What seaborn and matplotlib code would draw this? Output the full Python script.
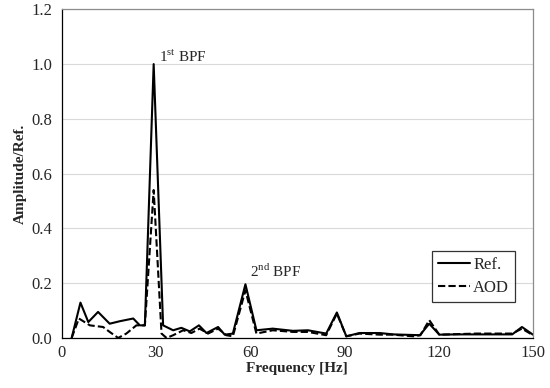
import numpy as np
import pandas as pd
import matplotlib
matplotlib.use("Agg")
import matplotlib.pyplot as plt
import seaborn as sns

# values
freq_ref = [3.2, 6.0, 8.5, 11.6, 15.3, 18.5, 22.8, 24.9, 26.5, 29.3, 32.3, 35.5, 38.1, 40.8,
            43.7, 46.1, 49.8, 51.9, 54.5, 58.5, 62.0, 67.2, 73.6, 78.4, 84.2, 87.6, 90.6,
            94.8, 101.2, 105.5, 114.0, 117.0, 120.2, 126.0, 132.0, 138.0, 143.4, 146.5, 150.0]
amp_ref = [0.0, 0.129, 0.058, 0.095, 0.052, 0.061, 0.071, 0.046, 0.046, 1.0, 0.046, 0.028, 0.037, 0.024,
           0.046, 0.018, 0.040, 0.012, 0.016, 0.196, 0.028, 0.034, 0.026, 0.028, 0.016, 0.093, 0.006,
           0.018, 0.018, 0.013, 0.010, 0.052, 0.012, 0.013, 0.013, 0.013, 0.013, 0.040, 0.012]

freq_aod = [3.2, 5.5, 9.0, 13.2, 15.3, 18.0, 20.6, 23.8, 26.5, 29.3, 31.8, 33.4, 35.5, 38.7,
            41.3, 43.9, 46.6, 49.8, 52.4, 54.5, 58.5, 62.0, 67.2, 73.6, 78.4, 84.2, 87.6,
            90.6, 94.8, 101.2, 105.5, 111.8, 114.2, 117.0, 120.2, 131.9, 143.4, 146.5, 150.0]
amp_aod = [0.0, 0.071, 0.046, 0.040, 0.022, 0.0, 0.016, 0.046, 0.046, 0.54, 0.016, 0.0, 0.010, 0.028,
           0.018, 0.034, 0.016, 0.034, 0.010, 0.006, 0.174, 0.016, 0.028, 0.022, 0.022, 0.010, 0.089,
           0.006, 0.016, 0.012, 0.012, 0.006, 0.010, 0.065, 0.012, 0.016, 0.016, 0.034, 0.010]

x_ticks = [0, 30, 60, 90, 120, 150]
y_ticks = [0.0, 0.2, 0.4, 0.6, 0.8, 1.0, 1.2]

sns.set_style("white")
plt.rcParams['font.family'] = ['Liberation Serif', 'DejaVu Serif']
plt.rcParams['mathtext.fontset'] = 'custom'
plt.rcParams['mathtext.rm'] = 'Liberation Serif'

df = pd.concat([
    pd.DataFrame({"freq": freq_ref, "amp": amp_ref, "series": "Ref."}),
    pd.DataFrame({"freq": freq_aod, "amp": amp_aod, "series": "AOD"}),
])

fig = plt.figure(figsize=(5.5, 3.88), dpi=100)
ax = fig.add_axes([0.112, 0.129, 0.857, 0.847])

sns.lineplot(data=df, x="freq", y="amp", hue="series", style="series",
             palette={"Ref.": "black", "AOD": "black"},
             dashes={"Ref.": "", "AOD": (3.5, 1.5)}, linewidth=1.5, ax=ax, sort=False)

ax.set_xlim(0, 150)
ax.set_ylim(0, 1.2)
ax.set_xticks(x_ticks)
ax.set_yticks(y_ticks)
ax.set_yticklabels(["%.1f" % v for v in y_ticks])
ax.yaxis.grid(True, color="#d9d9d9", linewidth=0.8)
ax.set_axisbelow(True)
ax.tick_params(axis="x", direction="in", length=3, labelsize=12, pad=5, color="#555555")
ax.tick_params(axis="y", direction="out", length=3, labelsize=12, pad=4, color="#555555")

for side in ["left", "bottom"]:
    ax.spines[side].set_color("black")
    ax.spines[side].set_linewidth(0.9)
for side in ["right", "top"]:
    ax.spines[side].set_color("#8c8c8c")
    ax.spines[side].set_linewidth(0.9)

ax.set_xlabel("Frequency [Hz]", fontsize=11, fontweight="bold", labelpad=1)
ax.set_ylabel("Amplitude/Ref.", fontsize=11, fontweight="bold", labelpad=3)

ax.text(31.0, 1.008, r"1$^{\mathrm{st}}$ BPF", fontsize=11)
ax.text(60.1, 0.223, r"2$^{\mathrm{nd}}$ BPF", fontsize=11)

leg = ax.legend(loc="lower right", bbox_to_anchor=(0.962, 0.11), borderaxespad=0, frameon=True,
                fancybox=False, edgecolor="black", fontsize=12, handlelength=1.9, handletextpad=0.2,
                borderpad=0.35, labelspacing=0.4)
leg.get_frame().set_linewidth(0.9)

fig.savefig("out.png", dpi=100)
